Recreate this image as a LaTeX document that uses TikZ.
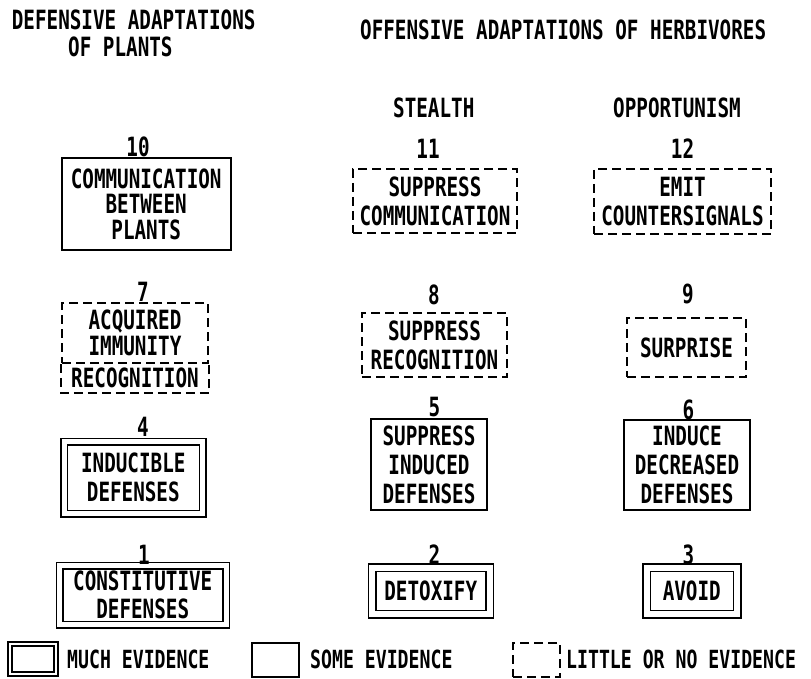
\documentclass[tikz,border=0pt]{standalone}
\usepackage{fontspec}
\setmainfont{DejaVu Sans Mono}[FakeStretch=0.727]
\usetikzlibrary{calc}
\begin{document}
\begin{tikzpicture}[x=1pt,y=-1pt,
  txt/.style={font=\fontsize{26.5}{29}\selectfont\bfseries, inner sep=0pt, align=center},
  tight/.style={font=\fontsize{26.5}{25.5}\selectfont\bfseries},
  lbl/.style={font=\fontsize{26.5}{29}\selectfont\bfseries, inner sep=0pt},
  legtxt/.style={font=\fontsize{25}{28}\selectfont\bfseries, inner sep=0pt, anchor=base west},
  boxbase/.style={txt, rectangle, line width=1.7pt},
  somebox/.style={boxbase, draw},
  muchbox/.style={boxbase, draw, double, double distance=5pt, line width=1.5pt},
  dashline/.style={line width=1.7pt, dash pattern=on 9pt off 5pt},
  littlebox/.style={boxbase, draw, dashline}
]
\fill[white] (0,0) rectangle (811,679);
\useasboundingbox (0,0) rectangle (811,679);

% headers
\node[lbl, anchor=base west] (h1a) at (11.7,30) {DEFENSIVE ADAPTATIONS};
\node[lbl, anchor=base west] (h1b) at (68,57) {OF PLANTS};
\node[lbl, anchor=base west] (h2) at (360,40) {OFFENSIVE ADAPTATIONS OF HERBIVORES};
\node[lbl, anchor=base west] (h3) at (393,118) {STEALTH};
\node[lbl, anchor=base west] (h4) at (613,118) {OPPORTUNISM};

% row 10-12
\node[somebox, tight, minimum width=169pt, minimum height=92pt] (b10) at (146.2,203.9) {COMMUNICATION\\BETWEEN\\PLANTS};
\node[littlebox, minimum width=164pt, minimum height=64pt] (b11) at (435,201) {SUPPRESS\\COMMUNICATION};
\node[littlebox, minimum width=177pt, minimum height=65pt] (b12) at (682.5,201.5) {EMIT\\COUNTERSIGNALS};
\node[lbl] (n10) at (138,146.5) {10};
\node[lbl] (n11) at (428,148.5) {11};
\node[lbl] (n12) at (682.5,149) {12};

% row 7-9
\node[littlebox, tight, minimum width=146pt, minimum height=60pt] (b7) at (135,333) {ACQUIRED\\IMMUNITY};
\node[txt, minimum width=146pt, minimum height=30pt] (b7r) at (135,378) {RECOGNITION};
\draw[dashline] (b7.south west) |- (b7r.south) -| (b7.south east);
\node[littlebox, minimum width=145pt, minimum height=64pt] (b8) at (434.5,345) {SUPPRESS\\RECOGNITION};
\node[littlebox, minimum width=119pt, minimum height=59pt] (b9) at (686.5,347.5) {SURPRISE};
\node[lbl] (n7) at (143,291.5) {7};
\node[lbl] (n8) at (434,294.5) {8};
\node[lbl] (n9) at (688,294) {9};

% row 4-6
\node[muchbox, minimum width=138.5pt, minimum height=72pt] (b4) at (133.3,477.5) {INDUCIBLE\\DEFENSES};
\node[somebox, minimum width=116pt, minimum height=91pt] (b5) at (429,464.5) {SUPPRESS\\INDUCED\\DEFENSES};
\node[somebox, minimum width=126pt, minimum height=90pt] (b6) at (687,465) {INDUCE\\DECREASED\\DEFENSES};
\node[lbl] (n4) at (143,427) {4};
\node[lbl] (n5) at (434.5,407.5) {5};
\node[lbl] (n6) at (688.5,409.5) {6};

% row 1-3
\node[muchbox, font=\fontsize{26.5}{28}\selectfont\bfseries, minimum width=166.5pt, minimum height=59pt] (b1) at (142.75,595) {CONSTITUTIVE\\DEFENSES};
\node[muchbox, double distance=6pt, minimum width=117.5pt, minimum height=46.5pt] (b2) at (430.75,590.75) {DETOXIFY};
\node[muchbox, double distance=6pt, minimum width=90.5pt, minimum height=46.5pt] (b3) at (691.75,590.75) {AVOID};
\node[lbl] (n1) at (144,554.5) {1};
\node[lbl] (n2) at (434.5,554.5) {2};
\node[lbl] (n3) at (688.5,554.5) {3};

% legend
\node[muchbox, double distance=2.5pt, minimum width=46pt, minimum height=30pt] (lg1) at (33,659) {};
\node[legtxt] (lt1) at (67,668) {MUCH EVIDENCE};
\node[somebox, minimum width=47pt, minimum height=34pt] (lg2) at (275.5,660) {};
\node[legtxt] (lt2) at (310,668) {SOME EVIDENCE};
\node[littlebox, minimum width=47pt, minimum height=34pt] (lg3) at (536.5,660) {};
\node[legtxt] (lt3) at (566,668) {LITTLE OR NO EVIDENCE};
\end{tikzpicture}
\end{document}
